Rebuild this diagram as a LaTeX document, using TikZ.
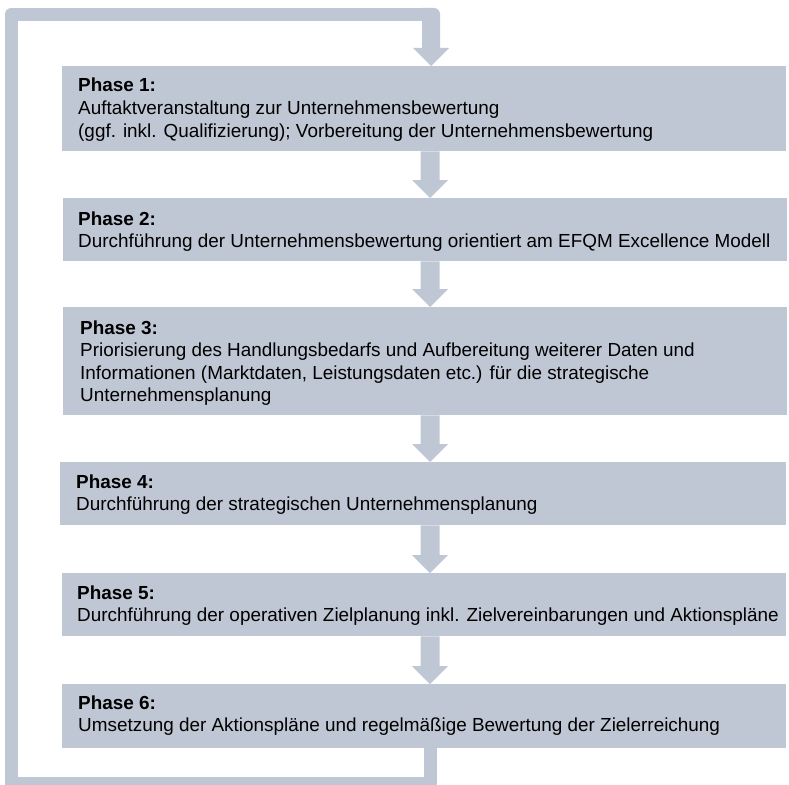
\documentclass[tikz,border=0pt]{standalone}
\usepackage{fontspec}
\setmainfont{Liberation Sans}
\usetikzlibrary{calc}
\definecolor{conngray}{RGB}{192,199,212}
\newcommand\blockarr[2]{%
  \fill[conn] ($(#1 -| ax)+(-9.5,0)$) -- ($(#2 -| ax)+(-9.5,-18)$) -- ($(#2 -| ax)+(-18,-18)$) -- (#2 -| ax) -- ($(#2 -| ax)+(18,-18)$) -- ($(#2 -| ax)+(9.5,-18)$) -- ($(#1 -| ax)+(9.5,0)$) -- cycle;}
\begin{document}
\begin{tikzpicture}[x=1pt,y=-1pt,
  box/.style={fill=conngray, draw=none, inner sep=0pt, minimum width=724pt, anchor=north west},
  txt/.style={inner sep=0pt, anchor=base west, font=\fontsize{18.9}{22.5}\selectfont, text=black},
  conn/.style={fill=conngray},
  loopline/.style={draw=conngray, line width=13pt, line join=round}]
\useasboundingbox (0,0) rectangle (789,784);
\clip (0,0) rectangle (789,784);
\fill[white] (0,0) rectangle (789,784);
\coordinate (ax) at (430,0);
% boxes
\node[box, minimum height=85pt] (p1) at (62,66) {};
\node[box, minimum height=63pt] (p2) at (63,198) {};
\node[box, minimum height=108pt] (p3) at (63,307) {};
\node[box, minimum height=63pt, minimum width=726pt] (p4) at (60,462) {};
\node[box, minimum height=63pt] (p5) at (62,573) {};
\node[box, minimum height=64pt] (p6) at (62,684) {};
% texts
\node[txt] (t1) at ($(p1.north west)+(16,26)$) {\parbox[t]{740pt}{\textbf{Phase 1:}\\ Auftaktveranstaltung zur Unternehmensbewertung\\ (ggf. inkl. Qualifizierung); Vorbereitung der Unternehmensbewertung}};
\node[txt] (t2) at ($(p2.north west)+(15,27)$) {\parbox[t]{740pt}{\textbf{Phase 2:}\\ Durchführung der Unternehmensbewertung orientiert am EFQM Excellence Modell}};
\node[txt] (t3) at ($(p3.north west)+(17,27)$) {\parbox[t]{740pt}{\textbf{Phase 3:}\\ Priorisierung des Handlungsbedarfs und Aufbereitung weiterer Daten und\\ Informationen (Marktdaten, Leistungsdaten etc.) für die strategische\\ Unternehmensplanung}};
\node[txt] (t4) at ($(p4.north west)+(16,26)$) {\parbox[t]{740pt}{\textbf{Phase 4:}\\ Durchführung der strategischen Unternehmensplanung}};
\node[txt] (t5) at ($(p5.north west)+(15,26)$) {\parbox[t]{740pt}{\textbf{Phase 5:}\\ Durchführung der operativen Zielplanung inkl. Zielvereinbarungen und Aktionspläne}};
\node[txt] (t6) at ($(p6.north west)+(16,25)$) {\parbox[t]{740pt}{\textbf{Phase 6:}\\ Umsetzung der Aktionspläne und regelmäßige Bewertung der Zielerreichung}};
% arrows between phases
\blockarr{p1.south}{p2.north}
\blockarr{p2.south}{p3.north}
\blockarr{p3.south}{p4.north}
\blockarr{p4.south}{p5.north}
\blockarr{p5.south}{p6.north}
% feedback loop
\coordinate (c1) at (430,783);
\coordinate (c2) at (11,783);
\coordinate (c3) at (11,14.5);
\coordinate (c4) at (431,14.5);
\draw[loopline] (p6.south -| ax) -- (c1) -- (c2) -- (c3) -- (c4);
\fill[conn] ($(c4)+(-9,-6.5)$) [rounded corners=6pt] -- ($(c4)+(9,-6.5)$) [sharp corners] -- ($(p1.north -| c4)+(9,-18)$) -- ($(p1.north -| c4)+(18,-18)$) -- (p1.north -| c4) -- ($(p1.north -| c4)+(-18,-18)$) -- ($(p1.north -| c4)+(-9,-18)$) -- cycle;
\end{tikzpicture}
\end{document}
